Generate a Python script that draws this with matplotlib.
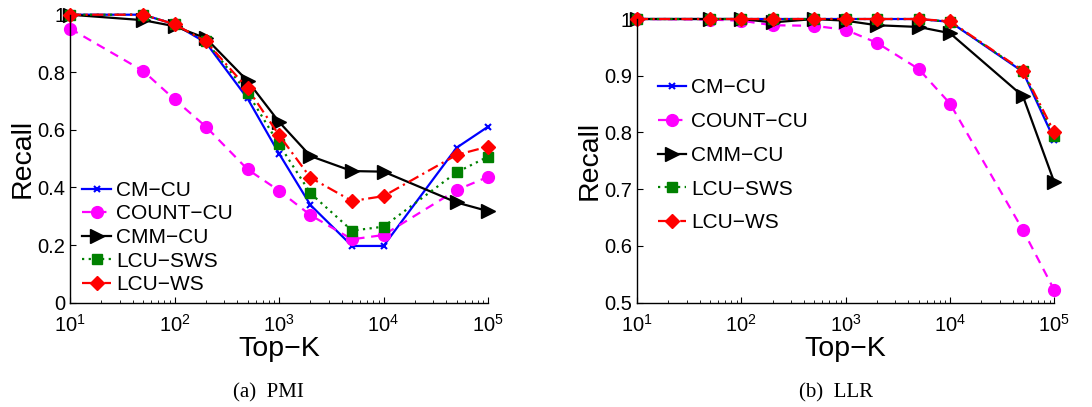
import matplotlib
matplotlib.use("Agg")
import matplotlib.pyplot as plt
from matplotlib.ticker import LogLocator, NullFormatter, FixedLocator, FixedFormatter

plt.rcParams['font.family'] = ['Liberation Sans', 'DejaVu Sans']
plt.rcParams['mathtext.fontset'] = 'custom'
plt.rcParams['mathtext.rm'] = 'Liberation Sans'
plt.rcParams['mathtext.it'] = 'Liberation Sans:italic'

topk = [10, 50, 100, 200, 500, 1000, 2000, 5000, 10000, 50000, 100000]
methods = ["CM\u2212CU", "COUNT\u2212CU", "CMM\u2212CU", "LCU\u2212SWS", "LCU\u2212WS"]

pmi_cm = [1.0, 1.0, 0.967, 0.903, 0.709, 0.518, 0.339, 0.197, 0.197, 0.538, 0.611]
pmi_count = [0.952, 0.805, 0.706, 0.611, 0.463, 0.389, 0.304, 0.22, 0.235, 0.391, 0.437]
pmi_cmm = [1.0, 0.981, 0.96, 0.918, 0.77, 0.628, 0.509, 0.457, 0.455, 0.348, 0.318]
pmi_sws = [1.0, 1.0, 0.967, 0.907, 0.729, 0.55, 0.38, 0.25, 0.264, 0.4525, 0.507]
pmi_ws = [1.0, 1.0, 0.967, 0.907, 0.744, 0.582, 0.434, 0.353, 0.37, 0.513, 0.542]

llr_cm = [1.0, 1.0, 1.0, 1.0, 1.0, 1.0, 1.0, 1.0, 0.995, 0.907, 0.787]
llr_count = [1.0, 0.999, 0.997, 0.989, 0.988, 0.981, 0.958, 0.912, 0.851, 0.628, 0.522]
llr_cmm = [1.0, 1.0, 1.0, 0.994, 1.0, 0.997, 0.989, 0.986, 0.975, 0.864, 0.712]
llr_sws = [1.0, 1.0, 1.0, 1.0, 1.0, 1.0, 1.0, 1.0, 0.995, 0.908, 0.793]
llr_ws = [1.0, 1.0, 1.0, 1.0, 1.0, 1.0, 1.0, 1.0, 0.996, 0.909, 0.800]

xtick_vals = [10, 100, 1000, 10000, 100000]
xtick_labels = ["$10^{1}$", "$10^{2}$", "$10^{3}$", "$10^{4}$", "$10^{5}$"]

styles = [
    dict(color='#0000ff', ls='-', marker='x', ms=5, mew=1.5),
    dict(color='#ff00ff', ls=(0, (4, 3)), marker='o', ms=8.5),
    dict(color='#000000', ls='-', marker='>', ms=10),
    dict(color='#008000', ls=(0, (1, 2)), marker='s', ms=6.5),
    dict(color='#ff0000', ls=(0, (5, 2, 1, 2)), marker='D', ms=7),
]

fig = plt.figure(figsize=(10.92, 4.07), dpi=100)

def setup(ax, ylim, yticks, ylabels):
    ax.set_xscale('log')
    ax.set_xlim(10, 100000)
    ax.set_ylim(*ylim)
    ax.xaxis.set_major_locator(FixedLocator(xtick_vals))
    ax.xaxis.set_major_formatter(FixedFormatter(xtick_labels))
    ax.xaxis.set_minor_locator(LogLocator(base=10, subs=range(2, 10)))
    ax.xaxis.set_minor_formatter(NullFormatter())
    ax.set_yticks(yticks)
    ax.set_yticklabels(ylabels)
    for s in ['top', 'right']:
        ax.spines[s].set_visible(False)
    for s in ['left', 'bottom']:
        ax.spines[s].set_linewidth(1.0)
    ax.tick_params(which='both', direction='in', top=False, right=False, labelsize=14.5)
    ax.tick_params(which='major', length=4)
    ax.tick_params(which='minor', length=2.5)
    ax.tick_params(axis='x', which='major', pad=8)
    ax.set_xlabel("Top\u2212K", fontsize=20.5, labelpad=0)
    ax.set_ylabel("Recall", fontsize=20.5, labelpad=1)

ax1 = fig.add_axes([0.0641, 0.2563, 0.3828, 0.7076])
setup(ax1, (0, 1), [0, 0.2, 0.4, 0.6, 0.8, 1.0], ["0", "0.2", "0.4", "0.6", "0.8", "1"])
for name, ys, st in zip(methods, [pmi_cm, pmi_count, pmi_cmm, pmi_sws, pmi_ws], styles):
    ax1.plot(topk, ys, label=name, lw=1.6, clip_on=False, **st)
ax1.legend(loc='lower left', bbox_to_anchor=(0.0, -0.014), frameon=False, fontsize=15,
           handlelength=1.35, handletextpad=0.25, labelspacing=0.22, borderaxespad=0.2)

ax2 = fig.add_axes([0.5833, 0.2563, 0.3822, 0.697])
setup(ax2, (0.5, 1), [0.5, 0.6, 0.7, 0.8, 0.9, 1.0], ["0.5", "0.6", "0.7", "0.8", "0.9", "1"])
for name, ys, st in zip(methods, [llr_cm, llr_count, llr_cmm, llr_sws, llr_ws], styles):
    ax2.plot(topk, ys, label=name, lw=1.6, clip_on=False, **st)
ax2.legend(loc='upper left', bbox_to_anchor=(0.02, 0.835), frameon=False, fontsize=15,
           handlelength=1.35, handletextpad=0.25, labelspacing=0.71, borderaxespad=0.2)

fig.text(0.2454, 0.0344, "(a)  PMI", fontsize=15, family=['Liberation Serif'], ha='center', va='center')
fig.text(0.7656, 0.0344, "(b)  LLR", fontsize=15, family=['Liberation Serif'], ha='center', va='center')

fig.savefig("out.png", dpi=100)
